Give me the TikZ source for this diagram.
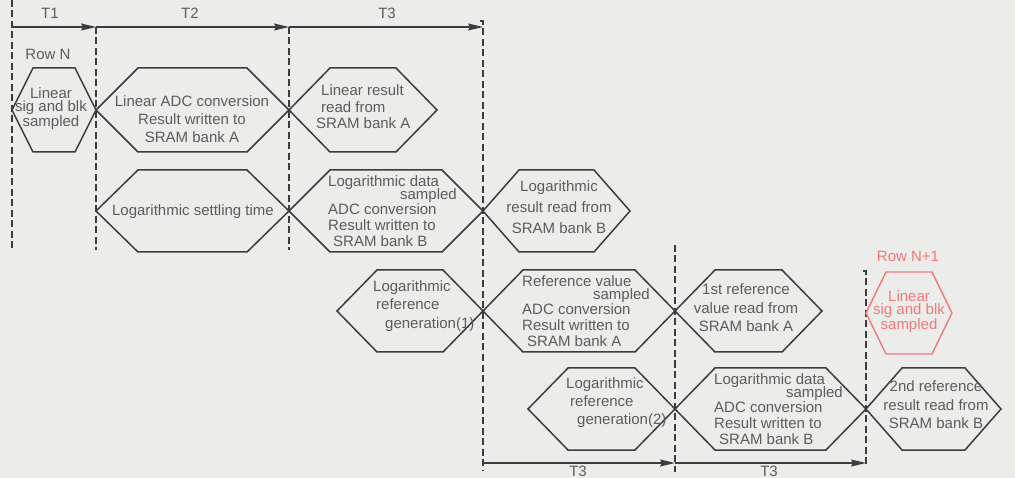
\documentclass[tikz,border=0pt]{standalone}
\usepackage{fontspec}
\setmainfont{Liberation Sans}
\usetikzlibrary{arrows.meta}

\definecolor{paper}{HTML}{ECECEA}
\definecolor{ink}{HTML}{3C3C3C}
\definecolor{txt}{HTML}{5C5C5C}
\definecolor{nextrow}{HTML}{F07A7A}

\tikzset{
  hexline/.style={draw=ink, line width=1.5pt, line join=miter},
  redhex/.style={draw=nextrow, line width=1.4pt, line join=miter},
  tickline/.style={draw=ink, line width=1.4pt, dash pattern=on 7pt off 3.5pt},
  period/.style={draw=ink, line width=1.2pt, -{Stealth[length=15pt,width=7pt,inset=2pt]}},
  lbl/.style={text=txt, inner sep=0pt, font=\fontsize{15}{18}\selectfont},
  tight/.style={font=\fontsize{15}{13}\selectfont},
}

% elongated hexagon: [style]{left tip x}{right tip x}{centre y}{half height}{slant width}
\newcommand{\hexcell}[6][hexline]{%
  \draw[#1] (#2,#4) -- (#2+#6,#4-#5) -- (#3-#6,#4-#5) -- (#3,#4)
    -- (#3-#6,#4+#5) -- (#2+#6,#4+#5) -- cycle;}

\begin{document}
\begin{tikzpicture}[x=1pt, y=-1pt]
  \fill[paper] (0,0) rectangle (1015,478);
  \useasboundingbox (0,0) rectangle (1015,478);

  % time marks
  \coordinate (m0) at (12,27);
  \coordinate (m1) at (96,27);
  \coordinate (m2) at (289,27);
  \coordinate (m3) at (483,27);
  \coordinate (n3) at (483,463);
  \coordinate (n4) at (675,463);
  \coordinate (n5) at (866,463);

  % dashed phase boundaries
  \draw[tickline] (12,0) -- (12,250);
  \draw[tickline] (96,27) -- (96,250);
  \draw[tickline] (289,27) -- (289,250);
  \draw[tickline] (480,21) -- (483,21) -- (483,470);
  \draw[tickline] (675,245) -- (675,472);
  \draw[tickline] (863,271) -- (866,271) -- (866,466);

  % period arrows
  \draw[period] (m0) -- (m1);
  \draw[period] (m1) -- (m2);
  \draw[period] (m2) -- (m3);
  \draw[period] (n3) -- (n4);
  \draw[period] (n4) -- (n5);
  \node[lbl] (T1)  at (50,13)  {T1};
  \node[lbl] (T2)  at (190,13) {T2};
  \node[lbl] (T3a) at (387,13) {T3};
  \node[lbl] (T3b) at (578,471) {T3};
  \node[lbl] (T3c) at (769,471) {T3};

  % row 1: linear readout
  \hexcell{12}{96}{110}{42}{21}
  \hexcell{96}{289}{110}{42}{42}
  \hexcell{289}{437}{110}{42}{41}
  % row 2: logarithmic readout
  \hexcell{96}{289}{211}{41}{42}
  \hexcell{289}{483}{211}{41}{41}
  \hexcell{483}{630}{211}{41}{36}
  % row 3: first reference
  \hexcell{337}{483}{311}{41}{40}
  \hexcell{483}{675}{311}{41}{40}
  \hexcell{675}{822}{311}{41}{40}
  % row 4: second reference
  \hexcell{528}{675}{409}{41}{40}
  \hexcell{675}{866}{409}{41}{40}
  \hexcell{866}{1001}{409}{41}{36}
  % next row starts
  \hexcell[redhex]{866}{952}{313}{41}{20}

  % labels
  \node[lbl] (rowN) at (48,54) {Row N};
  \node[lbl, tight, align=center] (tA1) at (51,109) {Linear\\sig and blk\\sampled};
  \node[lbl, align=center] (tA2) at (192,119) {Linear ADC conversion\\Result written to\\SRAM bank A};
  \node[lbl, align=left, anchor=west, font=\fontsize{15}{16.5}\selectfont] (tA3) at (316,107)
    {\hspace*{5pt}Linear result\\\hspace*{5pt}read from\\SRAM bank A};

  \node[lbl] (tB1) at (193,212) {Logarithmic settling time};
  \node[lbl, align=left, anchor=west, font=\fontsize{15}{16}\selectfont] (tB2) at (328,211)
    {Logarithmic data\\[12pt]ADC conversion\\Result written to\\\hspace*{5pt}SRAM bank B};
  \node[lbl, anchor=east] (sB2) at (457,195.5) {sampled};
  \node[lbl, align=center, font=\fontsize{15}{21}\selectfont] (tB3) at (559,207)
    {Logarithmic\\result read from\\SRAM bank B};

  \node[lbl, align=left, anchor=west, font=\fontsize{15}{18.5}\selectfont] (tC1) at (373,306)
    {Logarithmic\\\hspace*{3pt}reference\\\hspace*{12pt}generation(1)};
  \node[lbl, align=left, anchor=west, font=\fontsize{15}{16}\selectfont] (tC2) at (522,311)
    {Reference value\\[12pt]ADC conversion\\Result written to\\\hspace*{5pt}SRAM bank A};
  \node[lbl, anchor=east] (sC2) at (650,295.5) {sampled};
  \node[lbl, align=center, font=\fontsize{15}{18.5}\selectfont] (tC3) at (746,308)
    {1st reference\\value read from\\SRAM bank A};

  \node[lbl, align=left, anchor=west, font=\fontsize{15}{18}\selectfont] (tD1) at (566,403)
    {Logarithmic\\\hspace*{4pt}reference\\\hspace*{11pt}generation(2)};
  \node[lbl, align=left, anchor=west, font=\fontsize{15}{16}\selectfont] (tD2) at (714,409)
    {Logarithmic data\\[12pt]ADC conversion\\Result written to\\\hspace*{5pt}SRAM bank B};
  \node[lbl, anchor=east] (sD2) at (843,393.5) {sampled};
  \node[lbl, align=center, font=\fontsize{15}{18.5}\selectfont] (tD3) at (936,405)
    {2nd reference\\result read from\\SRAM bank B};

  \node[lbl, text=nextrow] (rowN1) at (908,256) {Row N+1};
  \node[lbl, tight, align=center, text=nextrow] (tR) at (909,312) {Linear\\sig and blk\\sampled};
\end{tikzpicture}
\end{document}
